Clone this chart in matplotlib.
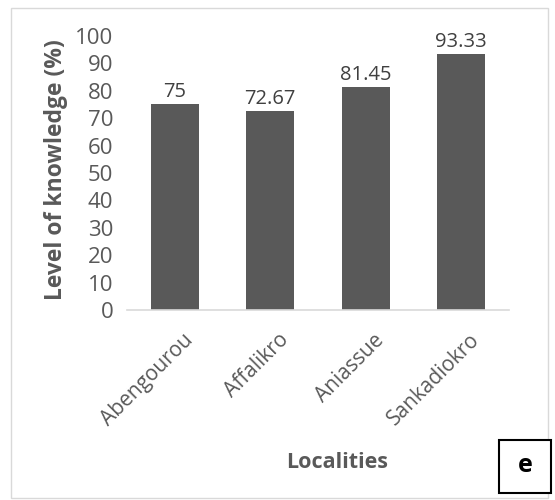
import matplotlib
matplotlib.use("Agg")
import matplotlib.pyplot as plt
from matplotlib.patches import Rectangle
from matplotlib.transforms import ScaledTranslation

localities = ["Abengourou", "Affalikro", "Aniassue", "Sankadiokro"]
knowledge = [75, 72.67, 81.45, 93.33]
value_labels = ["75", "72.67", "81.45", "93.33"]
yticks = [0, 10, 20, 30, 40, 50, 60, 70, 80, 90, 100]

plt.rcParams['font.family'] = ['Open Sans', 'DejaVu Sans']
grey = '#595959'
fig = plt.figure(figsize=(5.55, 5.0), dpi=100)
ax = fig.add_axes([0.229, 0.38, 0.688, 0.548])

x = list(range(len(localities)))
bars = ax.bar(x, knowledge, width=0.5, color=grey, zorder=2)
for xi, v, lab in zip(x, knowledge, value_labels):
    ax.text(xi, v + 0.8, lab, ha='center', va='bottom', fontsize=14.5, color='#404040')

ax.set_xlim(-0.5, 3.5)
ax.set_ylim(0, 100)
ax.set_yticks(yticks)
ax.set_yticklabels([str(t) for t in yticks], fontsize=16, color=grey)
ax.set_xticks(x)
ax.set_xticklabels(localities, rotation=45, ha='right', rotation_mode='anchor', fontsize=15, color=grey)
ax.tick_params(axis='y', length=0, pad=10)
ax.tick_params(axis='x', length=0, pad=14)
offset = ScaledTranslation(0.08, 0, fig.dpi_scale_trans)
for lbl in ax.get_xticklabels():
    lbl.set_transform(lbl.get_transform() + offset)
for s in ['top', 'right', 'left']:
    ax.spines[s].set_visible(False)
ax.spines['bottom'].set_color('#d9d9d9')
ax.spines['bottom'].set_linewidth(1.2)

fig.text(0.1, 0.66, "Level of knowledge (%)", rotation=90, ha='center', va='center',
         fontsize=16.5, fontweight='bold', color=grey)
fig.text(0.607, 0.074, "Localities", ha='center', va='center', fontsize=15.5,
         fontweight='bold', color=grey)

# outer border
fig.add_artist(Rectangle((11/555, 1 - 498/500), 537/555, 490/500, transform=fig.transFigure,
                         fill=False, edgecolor='#d9d9d9', linewidth=1))
# panel letter box
fig.add_artist(Rectangle((499/555, 1 - 493/500), 52/555, 53/500, transform=fig.transFigure,
                         facecolor='white', edgecolor='black', linewidth=1.5))
fig.text(525/555, 1 - 466/500, "e", ha='center', va='center', fontsize=18, fontweight='bold', color='black')

fig.savefig("out.png", dpi=100)
